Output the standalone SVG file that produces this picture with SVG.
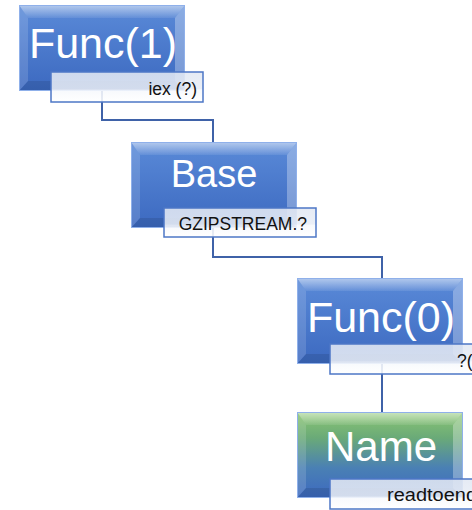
<svg xmlns="http://www.w3.org/2000/svg" xmlns:xlink="http://www.w3.org/1999/xlink" width="472" height="510" viewBox="0 0 472 510">
  <style>
    .main { font-family: "Liberation Sans", Arial, sans-serif; fill: #ffffff; text-anchor: middle; }
    .lbl { font-family: "Liberation Sans", Arial, sans-serif; fill: #111111; font-size: 17.5px; }
    .lblbox { fill: url(#lblGrad); stroke: #4d77c6; stroke-width: 1.5; fill-opacity: 0.88; }
    .conn { fill: none; stroke: #3f62a8; stroke-width: 2; }
  </style>
  <defs>
    <linearGradient id="blueGrad" x1="0" y1="0" x2="0" y2="1">
      <stop offset="0" stop-color="#5a8ad8"/>
      <stop offset="1" stop-color="#3c69c0"/>
    </linearGradient>
    <linearGradient id="greenGrad" x1="0" y1="0" x2="0" y2="1">
      <stop offset="0" stop-color="#8cc672"/>
      <stop offset="0.3" stop-color="#6aaa78"/>
      <stop offset="0.65" stop-color="#4a80b4"/>
      <stop offset="1" stop-color="#3c69c0"/>
    </linearGradient>
    <linearGradient id="topBevel" x1="0" y1="0" x2="0" y2="1">
      <stop offset="0" stop-color="#ffffff" stop-opacity="0.55"/>
      <stop offset="1" stop-color="#ffffff" stop-opacity="0.08"/>
    </linearGradient>
    <linearGradient id="lblGrad" x1="0" y1="0" x2="0" y2="1">
      <stop offset="0" stop-color="#e2e8f3"/>
      <stop offset="0.55" stop-color="#e8edf6"/>
      <stop offset="0.6" stop-color="#f6f8fc"/>
      <stop offset="1" stop-color="#ffffff"/>
    </linearGradient>
    <g id="bevel">
      <polygon points="0,0 166,0 156,13 9,13" fill="url(#topBevel)"/>
      <polygon points="0,0 9,13 9,76 0,86" fill="#ffffff" fill-opacity="0.14"/>
      <polygon points="166,0 166,86 156,76 156,13" fill="#ffffff" fill-opacity="0.3"/>
      <polygon points="0,86 9,76 156,76 166,86" fill="#000000" fill-opacity="0.1"/>
      <rect x="0.5" y="0.5" width="165" height="85" fill="none" stroke="#8fb0ea" stroke-width="1"/>
    </g>
  </defs>

  <g id="connectors">
    <polyline class="conn" points="102,90 102,120 213,120 213,142"/>
    <polyline class="conn" points="213,226 213,257 382,257 382,278"/>
    <polyline class="conn" points="382,361 382,412"/>
  </g>

  <g id="node-func1">
    <rect x="19" y="5" width="166" height="86" fill="url(#blueGrad)"/>
    <use xlink:href="#bevel" transform="translate(19,5)"/>
    <text class="main" x="103" y="58" font-size="43">Func(1)</text>
    <rect class="lblbox" x="51" y="72" width="152" height="30"/>
    <text class="lbl" x="197" y="95" text-anchor="end">iex (?)</text>
  </g>

  <g id="node-base">
    <rect x="131" y="142" width="166" height="86" fill="url(#blueGrad)"/>
    <use xlink:href="#bevel" transform="translate(131,142)"/>
    <text class="main" x="214" y="187" font-size="38">Base</text>
    <rect class="lblbox" x="164" y="208" width="152" height="29"/>
    <text class="lbl" x="307" y="230" text-anchor="end">GZIPSTREAM.?</text>
  </g>

  <g id="node-func0">
    <rect x="297" y="278" width="166" height="86" fill="url(#blueGrad)"/>
    <use xlink:href="#bevel" transform="translate(297,278)"/>
    <text class="main" x="381" y="332" font-size="43">Func(0)</text>
    <rect class="lblbox" x="330" y="344" width="152" height="30"/>
    <text class="lbl" x="457" y="367">?(</text>
  </g>

  <g id="node-name">
    <rect x="297" y="412" width="166" height="86" fill="url(#greenGrad)"/>
    <use xlink:href="#bevel" transform="translate(297,412)"/>
    <text class="main" x="381" y="461" font-size="42">Name</text>
    <rect class="lblbox" x="330" y="479" width="152" height="30"/>
    <text class="lbl" x="387" y="501" textLength="90" lengthAdjust="spacingAndGlyphs">readtoend</text>
  </g>
</svg>
